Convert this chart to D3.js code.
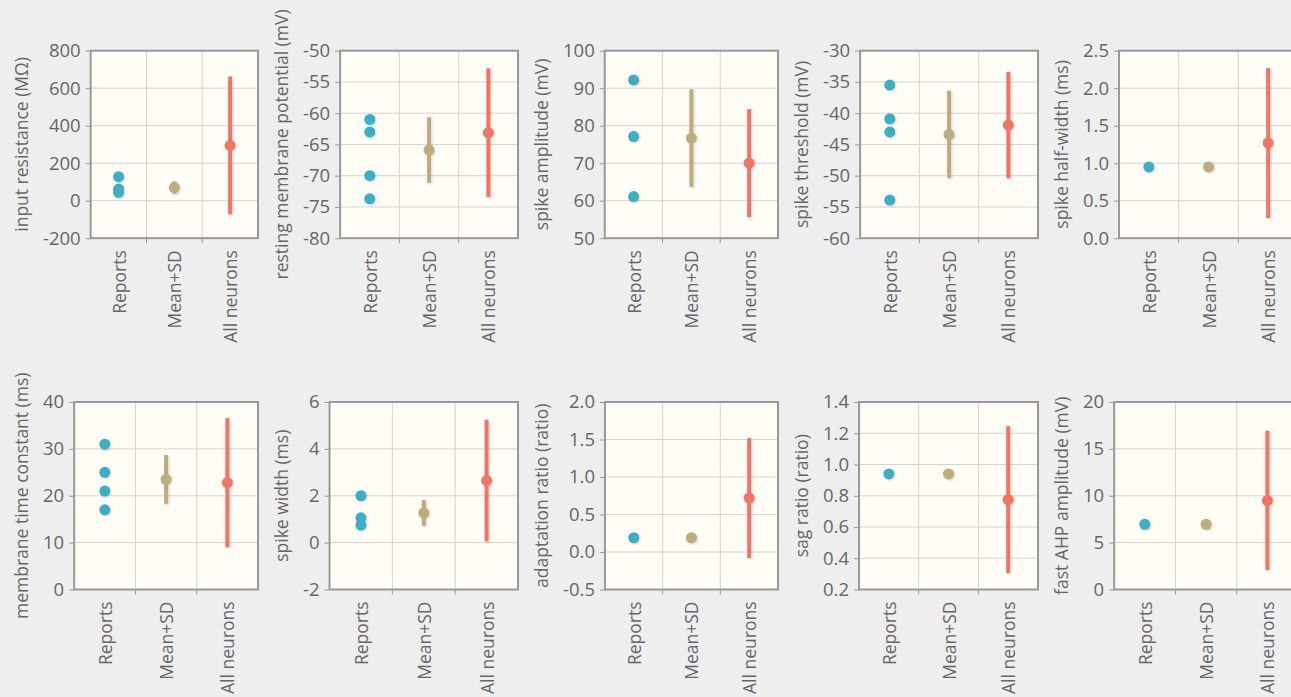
<!DOCTYPE html>
<html>
<head>
<meta charset="utf-8">
<script src="https://cdn.jsdelivr.net/npm/d3@7/dist/d3.min.js"></script>
<style>
  html, body { margin: 0; padding: 0; background: #eeeeee; }
  svg { display: block; }
  text { font-family: "Open Sans", sans-serif; fill: #666; }
</style>
</head>
<body>
<svg id="chart" width="1291" height="697"></svg>
<script>
// ---------------- data ----------------
const categories = ["Reports", "Mean+SD", "All neurons"];
const titles = [
  "input resistance (MΩ)", "resting membrane potential (mV)", "spike amplitude (mV)",
  "spike threshold (mV)", "spike half-width (ms)",
  "membrane time constant (ms)", "spike width (ms)", "adaptation ratio (ratio)",
  "sag ratio (ratio)", "fast AHP amplitude (mV)"
];
const yDomains = [
  [-200, 800], [-80, -50], [50, 100], [-60, -30], [0, 2.5],
  [0, 40], [-2, 6], [-0.5, 2.0], [0.2, 1.4], [0, 20]
];
const yTickSteps = [200, 5, 10, 5, 0.5, 10, 2, 0.5, 0.2, 5];
const yTickDecimals = [0, 0, 0, 0, 1, 0, 0, 1, 1, 0];
const reportValues = [
  [128, 62, 45],
  [-61, -63, -70, -73.7],
  [92.2, 77.1, 61.1],
  [-35.5, -40.9, -43.0, -53.9],
  [0.95],
  [31, 25, 21, 17],
  [2.0, 1.06, 0.75],
  [0.19],
  [0.94],
  [6.95]
];
const meanSdMeans = [70, -65.9, 76.7, -43.4, 0.95, 23.5, 1.27, 0.19, 0.94, 6.95];
const meanSdSDs   = [33, 5.25, 13.0, 7.0, 0, 5.2, 0.55, 0, 0, 0];
const allMeans = [295, -63.1, 70.0, -41.9, 1.27, 22.8, 2.65, 0.72, 0.775, 9.5];
const allSDs   = [367, 10.3, 14.4, 8.5, 1.0, 13.8, 2.6, 0.8, 0.47, 7.43];

const colors = ["#3eaec4", "#bbad7d", "#ef7565"];

// ---------------- drawing ----------------
const svg = d3.select("#chart");
const defs = svg.append("defs");
const f = defs.append("filter").attr("id", "sh").attr("x", "-50%").attr("y", "-50%").attr("width", "200%").attr("height", "200%");
f.append("feDropShadow").attr("dx", 1).attr("dy", 1).attr("stdDeviation", 1)
  .attr("flood-color", "#000").attr("flood-opacity", 0.18);

const fontSize = 17.5;
const tickFontSize = 18.5;
const panelPitch = 260;
const rowTops = [50.7, 402.0];
const plotH = 187.5;

titles.forEach((title, i) => {
  const col = i % 5, row = Math.floor(i / 5);
  const x0 = col * panelPitch;
  const top = rowTops[row], bottom = top + plotH;
  const [lo, hi] = yDomains[i];
  const step = yTickSteps[i];
  const ticks = d3.range(0, Math.round((hi - lo) / step) + 1).map(k => +(lo + k * step).toFixed(4));
  const base = d3.format("." + yTickDecimals[i] + "f");
  const fmt = v => base(v).replace("\u2212", "-");
  const g = svg.append("g");

  // measure tick label width
  const tmp = g.append("g");
  let maxW = 0;
  ticks.forEach(t => {
    const tt = tmp.append("text").style("font-size", tickFontSize + "px").text(fmt(t));
    maxW = Math.max(maxW, tt.node().getComputedTextLength());
  });
  tmp.remove();

  const left = x0 + 43 + maxW + 10;
  const right = x0 + panelPitch - 2;

  const y = d3.scaleLinear().domain([lo, hi]).range([bottom, top]);
  const x = d3.scaleBand().domain(categories).range([left, right]);

  // plot background
  g.append("rect").attr("x", left).attr("y", top).attr("width", right - left).attr("height", plotH)
    .attr("fill", "#fffdf6");

  // horizontal grid
  g.append("g").selectAll("line").data(ticks).join("line")
    .attr("x1", left).attr("x2", right)
    .attr("y1", d => y(d)).attr("y2", d => y(d))
    .attr("stroke", "#d4d4d4").attr("stroke-width", 1);
  // vertical grid at band boundaries
  const bounds = categories.slice(1).map(c => x(c));
  g.append("g").selectAll("line").data(bounds).join("line")
    .attr("x1", d => d).attr("x2", d => d)
    .attr("y1", top).attr("y2", bottom)
    .attr("stroke", "#d4d4d4").attr("stroke-width", 1);

  // y axis
  const yAxis = d3.axisLeft(y).tickValues(ticks).tickFormat(fmt).tickSize(5).tickPadding(5);
  const ya = g.append("g").attr("transform", `translate(${left},0)`).call(yAxis);
  ya.select(".domain").remove();
  ya.selectAll(".tick line").attr("stroke", "#999");
  ya.selectAll(".tick text").style("font-size", tickFontSize + "px").style("font-family", "Open Sans, sans-serif").attr("fill", "#666");

  // x axis ticks at band boundaries + labels
  g.append("g").selectAll("line").data(bounds).join("line")
    .attr("x1", d => d).attr("x2", d => d)
    .attr("y1", bottom).attr("y2", bottom + 5)
    .attr("stroke", "#999");
  g.append("g").selectAll("text").data(categories).join("text")
    .attr("transform", d => `translate(${x(d) + x.bandwidth() / 2},${bottom + 12}) rotate(-90)`)
    .attr("text-anchor", "end").attr("dominant-baseline", "central")
    .style("font-size", fontSize + "px")
    .text(d => d);

  // y title
  g.append("text")
    .attr("transform", `translate(${x0 + 21},${(top + bottom) / 2}) rotate(-90)`)
    .attr("text-anchor", "middle").attr("dominant-baseline", "central")
    .style("font-size", fontSize + "px")
    .text(title);

  // border
  g.append("rect").attr("x", left).attr("y", top).attr("width", right - left).attr("height", plotH)
    .attr("fill", "none").attr("stroke", "#999").attr("stroke-width", 2);

  const cx = c => x(c) + x.bandwidth() / 2;
  const marks = g.append("g").attr("filter", "url(#sh)");

  // reports dots
  marks.selectAll("circle.rep").data(reportValues[i]).join("circle")
    .attr("class", "rep")
    .attr("cx", cx(categories[0])).attr("cy", d => y(d)).attr("r", 5.5)
    .attr("fill", colors[0]);

  // mean+sd and all neurons
  const summaries = [
    { cat: categories[1], m: meanSdMeans[i], s: meanSdSDs[i], c: colors[1] },
    { cat: categories[2], m: allMeans[i], s: allSDs[i], c: colors[2] }
  ];
  summaries.forEach(sm => {
    if (sm.s > 0) {
      marks.append("line")
        .attr("x1", cx(sm.cat)).attr("x2", cx(sm.cat))
        .attr("y1", y(sm.m - sm.s)).attr("y2", y(sm.m + sm.s))
        .attr("stroke", sm.c).attr("stroke-width", 4);
    }
    marks.append("circle").attr("cx", cx(sm.cat)).attr("cy", y(sm.m)).attr("r", 5.5).attr("fill", sm.c);
  });
});
</script>
</body>
</html>
